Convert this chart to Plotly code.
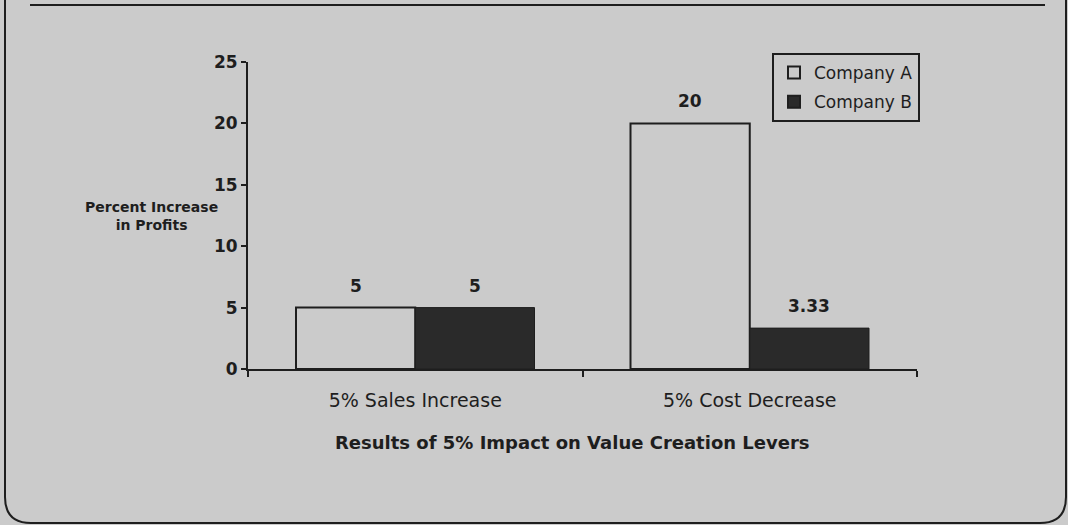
import plotly.graph_objects as go

categories = ["5% Sales Increase", "5% Cost Decrease"]
company_a = [5, 20]
company_b = [5, 3.33]
label_a = ["5", "20"]
label_b = ["5", "3.33"]
y_ticks = [0, 5, 10, 15, 20, 25]

FONT = "DejaVu Sans, Liberation Sans, Arial, sans-serif"
BG = "#cbcbcb"
INK = "#1e1e1e"

# plot-area pixel geometry (used for decorations only)
L, R, T, B = 248, 917, 62, 369
def px(x):
    return (x - L) / (R - L)
def py(y):
    return (B - y) / (B - T)

fig = go.Figure()
fig.add_trace(go.Bar(
    name="Company A", x=categories, y=company_a, legendgroup="a",
    marker=dict(color="rgba(0,0,0,0)", line=dict(color=INK, width=2)),
))
fig.add_trace(go.Bar(
    name="Company B", x=categories, y=company_b, legendgroup="b",
    marker=dict(color="#2a2a2a", line=dict(color=INK, width=1)),
))

# value labels above bars
annotations = []
half = (R - L) / 2 * (1 - 0.287) / 4
for lab, x, y in zip(label_a, categories, company_a):
    annotations.append(dict(x=x, y=y, text=lab, showarrow=False, xshift=-half,
                            yshift=22, font=dict(size=17, family=FONT, color=INK, weight="bold")))
for lab, x, y in zip(label_b, categories, company_b):
    annotations.append(dict(x=x, y=y, text=lab, showarrow=False, xshift=half,
                            yshift=22, font=dict(size=17, family=FONT, color=INK, weight="bold")))

annotations.append(dict(xref="paper", yref="paper", x=px(151), y=py(216),
                        xanchor="center", yanchor="middle",
                        text="Percent Increase<br>in Profits", showarrow=False,
                        font=dict(size=14, family=FONT, color=INK, weight="bold")))
annotations.append(dict(xref="paper", yref="paper", x=px(572), y=py(442),
                        xanchor="center", yanchor="middle",
                        text="Results of 5% Impact on Value Creation Levers", showarrow=False,
                        font=dict(size=18, family=FONT, color=INK, weight="bold")))

shapes = [
    # page frame: top rule
    dict(type="line", xref="paper", yref="paper", x0=px(30), x1=px(1045), y0=py(5), y1=py(5),
         line=dict(color=INK, width=2)),
    # left/bottom/right frame with rounded corners
    dict(type="path", xref="paper", yref="paper",
         path=(f"M {px(5)},{py(0)} L {px(5)},{py(497)} "
               f"Q {px(5)},{py(523)} {px(31)},{py(523)} "
               f"L {px(1040)},{py(523)} "
               f"Q {px(1066)},{py(523)} {px(1066)},{py(497)} "
               f"L {px(1066)},{py(0)}"),
         line=dict(color=INK, width=2)),
]

fig.update_layout(
    width=1068, height=525,
    margin=dict(l=L, r=1068 - R, t=T, b=525 - B),
    paper_bgcolor=BG, plot_bgcolor="rgba(0,0,0,0)",
    barmode="group", bargap=0.287, bargroupgap=0,
    font=dict(family=FONT, color=INK),
    showlegend=True,
    legend=dict(x=px(772), y=py(53), xanchor="left", yanchor="top",
                bgcolor="rgba(0,0,0,0)", bordercolor=INK, borderwidth=2,
                font=dict(size=17, family=FONT, color=INK),
                traceorder="grouped", itemsizing="constant", tracegroupgap=4),
    annotations=annotations,
    shapes=shapes,
)
fig.update_xaxes(
    showline=True, linecolor=INK, linewidth=2,
    ticks="outside", ticklen=6, tickwidth=2, tickcolor=INK, tickson="boundaries",
    tickfont=dict(size=19, family=FONT, color=INK), ticklabelstandoff=13,
    showgrid=False, zeroline=False,
)
fig.update_yaxes(
    range=[0, 25], tickvals=y_ticks,
    showline=True, linecolor=INK, linewidth=2,
    ticks="outside", ticklen=5, tickwidth=2, tickcolor=INK,
    tickfont=dict(size=17, family=FONT, color=INK, weight="bold"),
    showgrid=False, zeroline=False,
)

fig.write_html("out.html")
